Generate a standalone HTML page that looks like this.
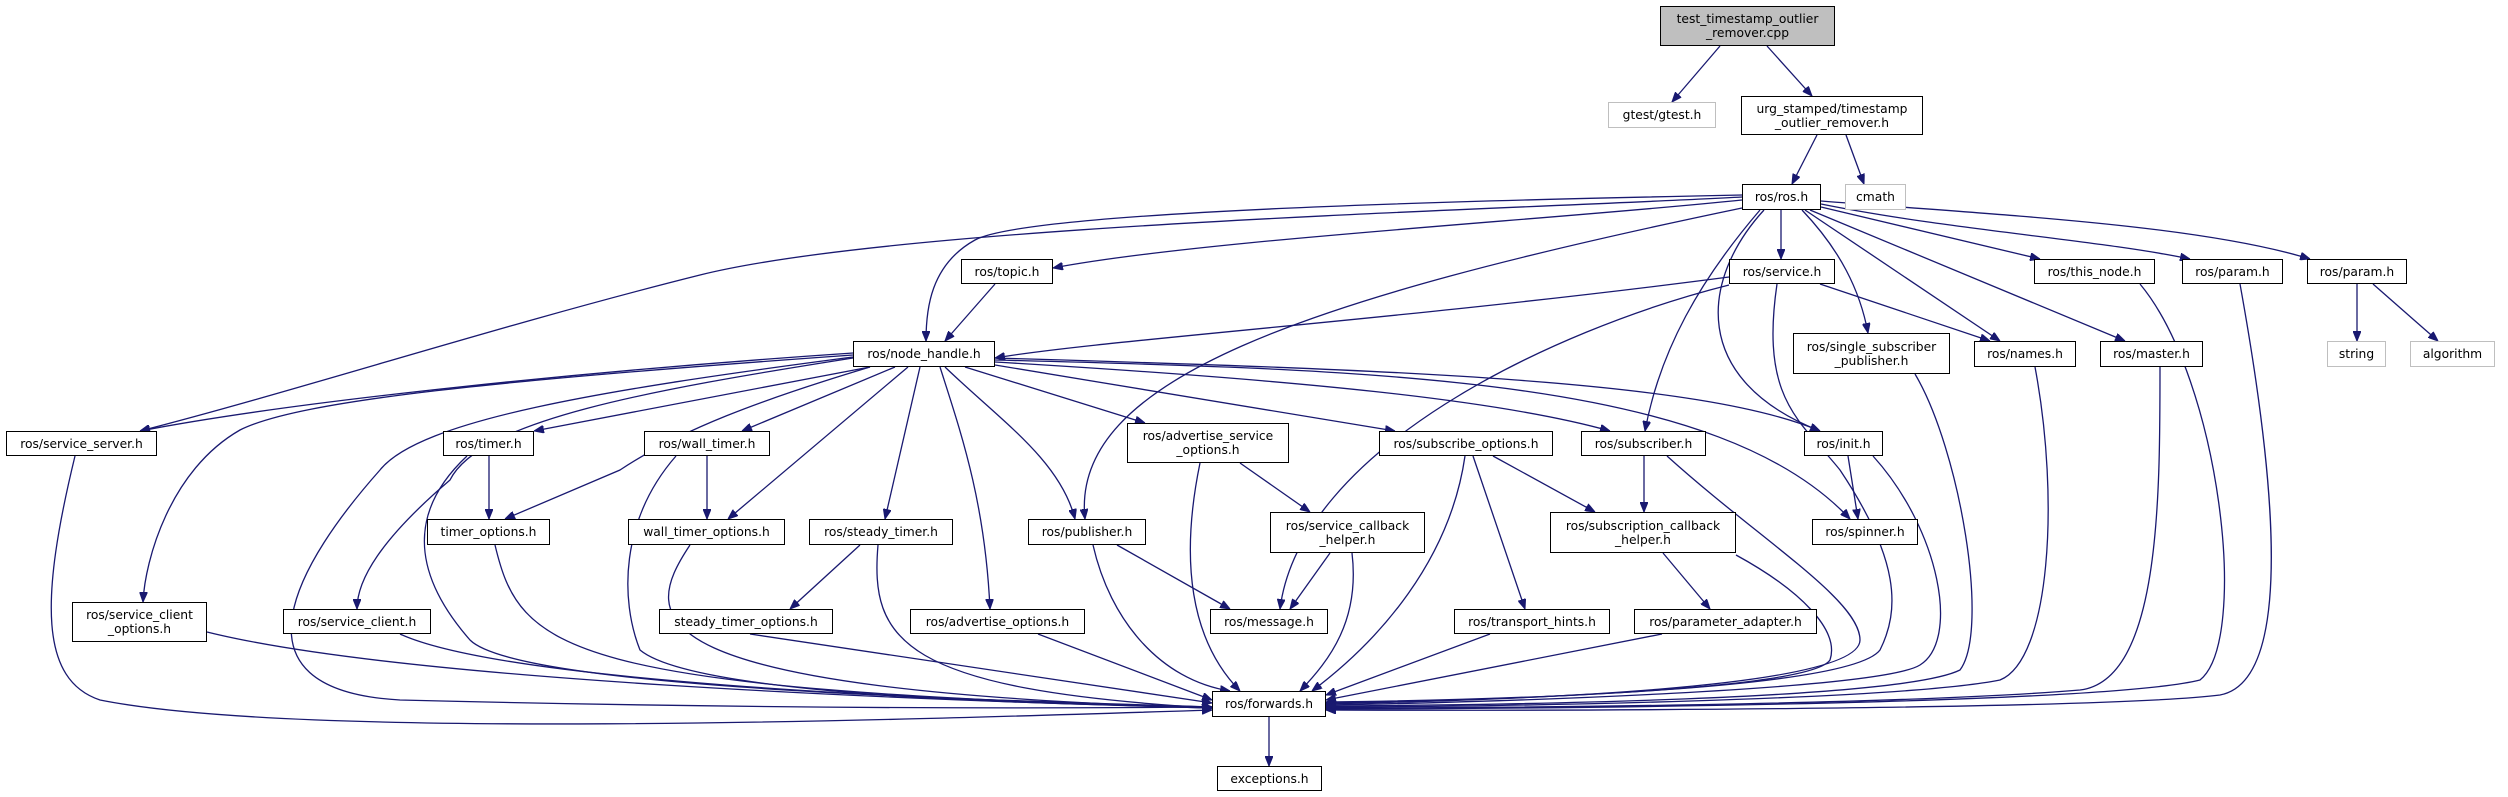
<!DOCTYPE html>
<html><head><meta charset="utf-8"><style>
body{margin:0;width:2508px;height:797px;background:#fff;position:relative;overflow:hidden;font-family:"DejaVu Sans","Liberation Sans",sans-serif;font-size:12.3px;}
.n{position:absolute;box-sizing:border-box;border:1.3px solid #000;background:#fff;display:flex;align-items:center;justify-content:center;text-align:center;line-height:14px;color:#000;white-space:nowrap}
.g{border-color:#bfbfbf}
svg{position:absolute;left:0;top:0}
</style></head><body>
<svg width="2508" height="797" viewBox="0 0 2508 797">
<defs><marker id="a" markerWidth="10" markerHeight="8" refX="10" refY="4" orient="auto" markerUnits="userSpaceOnUse"><path d="M0,0 L10,4 L0,8 z" fill="#191970" stroke="#191970"/></marker></defs>
<g fill="none" stroke="#191970" stroke-width="1.3" marker-end="url(#a)">
<path d="M1720,46 L1672,102"/>
<path d="M1767,46 L1812,96"/>
<path d="M1817,135 L1792,184"/>
<path d="M1846,135 L1864,184"/>
<path d="M1742,200 C1550,220 1200,240 1053,268"/>
<path d="M1742,195 C1500,200 1030,210 975,240 C930,265 926,310 926,341"/>
<path d="M1742,197 C1500,210 900,225 700,275 C500,325 300,390 140,431"/>
<path d="M1742,208 C1300,300 1070,380 1085,519"/>
<path d="M1781,210 L1781,259"/>
<path d="M1802,210 C1840,250 1860,290 1868,333"/>
<path d="M1805,210 L2000,341"/>
<path d="M1810,210 L2125,341"/>
<path d="M1821,207 L2040,259"/>
<path d="M1821,204 C1950,230 2100,240 2190,259"/>
<path d="M1821,201 C2000,215 2200,225 2310,259"/>
<path d="M1760,210 C1700,280 1660,350 1645,431"/>
<path d="M1764,210 C1700,280 1690,380 1820,431"/>
<path d="M1729,277 C1400,320 1100,340 995,358"/>
<path d="M1729,285 C1550,330 1300,450 1280,609"/>
<path d="M1820,284 L1990,341"/>
<path d="M1777,284 C1760,400 1800,420 1840,470 C1900,560 1900,610 1880,650 C1850,690 1500,700 1326,702"/>
<path d="M995,284 L945,341"/>
<path d="M853,353 C600,370 300,400 140,431"/>
<path d="M853,355 C500,380 300,400 240,430 C170,470 145,560 143,602"/>
<path d="M853,357 C600,390 420,420 380,470 C300,560 220,690 400,700 C800,710 1100,708 1212,707"/>
<path d="M853,358 C650,390 480,420 450,480 C380,540 357,580 357,609"/>
<path d="M870,367 L534,431"/>
<path d="M870,367 C760,400 680,430 620,470 L505,519"/>
<path d="M895,367 L742,431"/>
<path d="M908,367 L728,519"/>
<path d="M920,367 L885,519"/>
<path d="M940,367 C960,430 985,500 990,609"/>
<path d="M945,367 C1000,420 1060,460 1075,519"/>
<path d="M965,367 L1145,423"/>
<path d="M995,365 L1395,431"/>
<path d="M995,362 C1300,380 1500,400 1610,431"/>
<path d="M995,358 C1400,370 1700,380 1820,431"/>
<path d="M995,360 C1400,370 1720,380 1850,519"/>
<path d="M489,456 L489,519"/>
<path d="M467,456 C420,500 400,560 470,640 C520,690 1000,700 1212,707"/>
<path d="M707,456 L707,519"/>
<path d="M676,456 C620,520 620,600 640,650 C700,700 1100,705 1212,707"/>
<path d="M860,545 L790,609"/>
<path d="M878,545 C870,640 900,690 1212,708"/>
<path d="M1117,545 L1230,609"/>
<path d="M1093,545 C1110,620 1160,680 1230,691"/>
<path d="M1240,463 L1310,512"/>
<path d="M1200,463 C1180,560 1190,640 1240,691"/>
<path d="M1330,553 L1290,609"/>
<path d="M1352,553 C1360,620 1330,660 1300,691"/>
<path d="M1493,456 L1595,512"/>
<path d="M1473,456 L1525,609"/>
<path d="M1465,456 C1450,560 1380,640 1312,691"/>
<path d="M1644,456 L1644,512"/>
<path d="M1667,456 C1760,540 1860,600 1860,640 C1860,690 1500,700 1326,704"/>
<path d="M1663,553 L1710,609"/>
<path d="M1736,555 C1800,590 1840,630 1830,660 C1810,690 1500,700 1326,703"/>
<path d="M1848,456 L1858,519"/>
<path d="M1873,456 C1940,530 1960,640 1920,665 C1880,690 1500,702 1326,705"/>
<path d="M1490,634 L1326,695"/>
<path d="M1662,634 L1326,700"/>
<path d="M1038,634 L1212,700"/>
<path d="M750,634 L1212,703"/>
<path d="M400,634 C500,680 900,700 1212,707"/>
<path d="M207,632 C400,680 900,700 1212,708"/>
<path d="M75,456 C40,600 40,680 100,700 C300,740 900,720 1212,710"/>
<path d="M495,545 C520,650 560,690 1212,708"/>
<path d="M690,545 C640,620 630,690 1212,708"/>
<path d="M2357,284 L2357,341"/>
<path d="M2373,284 L2438,341"/>
<path d="M2140,284 C2220,380 2250,640 2200,680 C2100,705 1500,709 1326,709"/>
<path d="M2240,284 C2270,450 2300,680 2220,695 C2100,710 1500,711 1326,710"/>
<path d="M2035,367 C2060,500 2050,660 2000,680 C1900,700 1500,707 1326,707"/>
<path d="M2160,367 C2160,500 2160,680 2080,690 C1900,705 1500,708 1326,708"/>
<path d="M1915,374 C1960,450 1990,630 1960,670 C1900,700 1500,705 1326,706"/>
<path d="M1269,717 L1269,766"/>
</g></svg>
<div class="n" style="left:1660px;top:6px;width:175px;height:40px;background:#bfbfbf">test_timestamp_outlier<br>_remover.cpp</div>
<div class="n g" style="left:1608px;top:102px;width:108px;height:26px">gtest/gtest.h</div>
<div class="n" style="left:1741px;top:96px;width:182px;height:39px">urg_stamped/timestamp<br>_outlier_remover.h</div>
<div class="n" style="left:1742px;top:184px;width:79px;height:26px">ros/ros.h</div>
<div class="n g" style="left:1845px;top:184px;width:61px;height:26px">cmath</div>
<div class="n" style="left:961px;top:259px;width:92px;height:25px">ros/topic.h</div>
<div class="n" style="left:1729px;top:259px;width:106px;height:25px">ros/service.h</div>
<div class="n" style="left:2034px;top:259px;width:121px;height:25px">ros/this_node.h</div>
<div class="n" style="left:2182px;top:259px;width:101px;height:25px">ros/param.h</div>
<div class="n" style="left:2307px;top:259px;width:100px;height:25px">ros/param.h</div>
<div class="n" style="left:853px;top:341px;width:142px;height:26px">ros/node_handle.h</div>
<div class="n" style="left:1793px;top:333px;width:157px;height:41px">ros/single_subscriber<br>_publisher.h</div>
<div class="n" style="left:1974px;top:341px;width:102px;height:26px">ros/names.h</div>
<div class="n" style="left:2100px;top:341px;width:103px;height:26px">ros/master.h</div>
<div class="n g" style="left:2327px;top:341px;width:59px;height:26px">string</div>
<div class="n g" style="left:2410px;top:341px;width:85px;height:26px">algorithm</div>
<div class="n" style="left:6px;top:431px;width:151px;height:25px">ros/service_server.h</div>
<div class="n" style="left:443px;top:431px;width:91px;height:25px">ros/timer.h</div>
<div class="n" style="left:644px;top:431px;width:126px;height:25px">ros/wall_timer.h</div>
<div class="n" style="left:1127px;top:423px;width:162px;height:40px">ros/advertise_service<br>_options.h</div>
<div class="n" style="left:1379px;top:431px;width:174px;height:25px">ros/subscribe_options.h</div>
<div class="n" style="left:1581px;top:431px;width:125px;height:25px">ros/subscriber.h</div>
<div class="n" style="left:1804px;top:431px;width:79px;height:25px">ros/init.h</div>
<div class="n" style="left:427px;top:519px;width:123px;height:26px">timer_options.h</div>
<div class="n" style="left:628px;top:519px;width:157px;height:26px">wall_timer_options.h</div>
<div class="n" style="left:809px;top:519px;width:144px;height:26px">ros/steady_timer.h</div>
<div class="n" style="left:1028px;top:519px;width:118px;height:26px">ros/publisher.h</div>
<div class="n" style="left:1270px;top:512px;width:155px;height:41px">ros/service_callback<br>_helper.h</div>
<div class="n" style="left:1550px;top:512px;width:186px;height:41px">ros/subscription_callback<br>_helper.h</div>
<div class="n" style="left:1812px;top:519px;width:106px;height:26px">ros/spinner.h</div>
<div class="n" style="left:72px;top:602px;width:135px;height:40px">ros/service_client<br>_options.h</div>
<div class="n" style="left:283px;top:609px;width:148px;height:25px">ros/service_client.h</div>
<div class="n" style="left:659px;top:609px;width:174px;height:25px">steady_timer_options.h</div>
<div class="n" style="left:910px;top:609px;width:175px;height:25px">ros/advertise_options.h</div>
<div class="n" style="left:1210px;top:609px;width:118px;height:25px">ros/message.h</div>
<div class="n" style="left:1454px;top:609px;width:156px;height:25px">ros/transport_hints.h</div>
<div class="n" style="left:1634px;top:609px;width:183px;height:25px">ros/parameter_adapter.h</div>
<div class="n" style="left:1212px;top:691px;width:114px;height:26px">ros/forwards.h</div>
<div class="n" style="left:1217px;top:766px;width:105px;height:25px">exceptions.h</div>
</body></html>
